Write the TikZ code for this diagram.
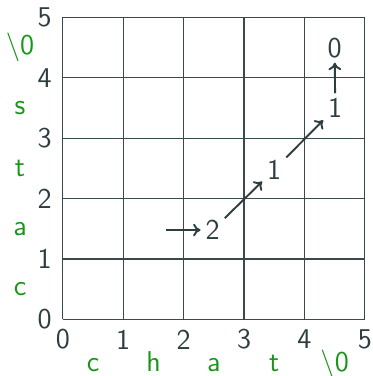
\documentclass[tikz,border=0pt]{standalone}
\usepackage{fontspec}
\usetikzlibrary{arrows.meta}
\definecolor{ink}{RGB}{46,62,64}
\definecolor{gridc}{RGB}{58,74,76}
\definecolor{grn}{RGB}{24,150,24}
\begin{document}
\begin{tikzpicture}[x=1cm,y=1cm,
  font=\sffamily\fontsize{13.5}{16}\selectfont,
  tick/.style={text=ink,inner sep=0pt},
  lbl/.style={text=grn,inner sep=0pt},
  cell/.style={text=ink,inner sep=2.2pt},
  arr/.style={draw=ink,line width=0.9pt,-{To[length=3.5pt,width=6pt]}}]
\useasboundingbox (-1.041,-0.937) rectangle (5.124,5.289);
\draw[gridc,line width=0.55pt] (0,0) grid (5,5);
% axis tick labels
\foreach \i in {0,...,5} {
  \node[tick] (x\i) at (\i,-0.33) {\i};
  \node[tick] (y\i) at (-0.30,\i) {\i};
}
% green labels along y
\node[lbl] (yc) at (-0.71,0.5) {c};
\node[lbl] (ya) at (-0.71,1.5) {a};
\node[lbl] (yt) at (-0.71,2.5) {t};
\node[lbl] (ys) at (-0.71,3.5) {s};
\node[lbl] (yz) at (-0.71,4.5) {\textbackslash 0};
% green labels along x
\node[lbl,anchor=base] (xc) at (0.5,-0.87) {c};
\node[lbl,anchor=base] (xh) at (1.5,-0.87) {h};
\node[lbl,anchor=base] (xa) at (2.5,-0.87) {a};
\node[lbl,anchor=base] (xt) at (3.5,-0.87) {t};
\node[lbl,anchor=base] (xz) at (4.5,-0.87) {\textbackslash 0};
% path cells
\coordinate (start) at (1.70,1.48);
\node[cell] (n2) at (2.48,1.48) {2};
\node[cell] (n1a) at (3.5,2.48) {1};
\node[cell] (n1b) at (4.51,3.50) {1};
\node[cell] (n0) at (4.50,4.50) {0};
\draw[arr] (start) -- (n2);
\draw[arr] (n2) -- (n1a);
\draw[arr] (n1a) -- (n1b);
\draw[arr] (n1b) -- (n0);
\end{tikzpicture}
\end{document}
